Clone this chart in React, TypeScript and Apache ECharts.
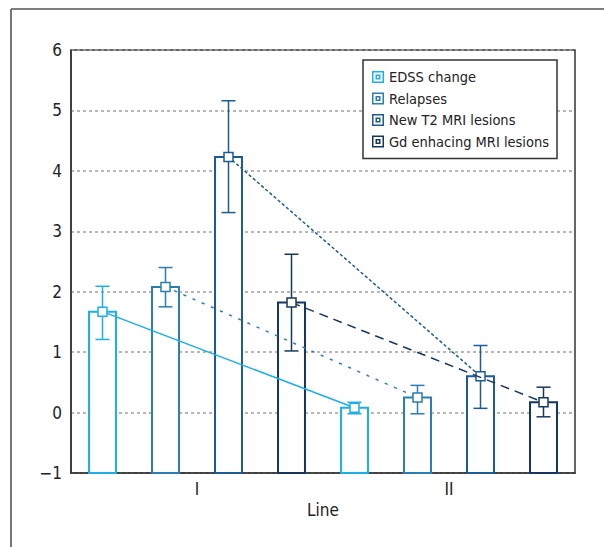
import React, { useEffect, useRef } from "react";
import * as echarts from "echarts";

const categories = ["I", "II"];
const seriesNames = ["EDSS change", "Relapses", "New T2 MRI lesions", "Gd enhacing MRI lesions"];
const seriesColors = ["#1cb0e6", "#2b7db3", "#1d5b94", "#15375f"];
const lineDashes: (number[] | null)[] = [null, [2, 8], [2, 3.5], [9, 6]];

const edssMean = [1.67, 0.08];
const edssLow = [1.21, -0.02];
const edssHigh = [2.09, 0.17];

const relapsesMean = [2.08, 0.25];
const relapsesLow = [1.75, -0.02];
const relapsesHigh = [2.4, 0.45];

const t2Mean = [4.23, 0.6];
const t2Low = [3.31, 0.07];
const t2High = [5.16, 1.11];

const gdMean = [1.82, 0.17];
const gdLow = [1.02, -0.07];
const gdHigh = [2.62, 0.42];

const yTicks = [-1, 0, 1, 2, 3, 4, 5, 6];

const means = [edssMean, relapsesMean, t2Mean, gdMean];
const lows = [edssLow, relapsesLow, t2Low, gdLow];
const highs = [edssHigh, relapsesHigh, t2High, gdHigh];

const FONT = "'Liberation Sans Narrow', 'DejaVu Sans Condensed', 'Open Sans', sans-serif";
const Y_MIN = yTicks[0];
const Y_MAX = yTicks[yTicks.length - 1];

const legendIcon =
  "path://M0,0H12V12H0ZM1.5,1.5V10.5H10.5V1.5ZM3.5,3.5H8.5V8.5H3.5ZM5,5V7H7V5Z";

export default function App() {
  const ref = useRef<HTMLDivElement>(null);

  useEffect(() => {
    if (!ref.current) return;
    const chart = echarts.init(ref.current, undefined, { renderer: "svg" });

    const barSeries = seriesNames.map((name, si) => ({
      type: "custom",
      name,
      z: 2,
      itemStyle: { color: seriesColors[si] },
      encode: { x: 0, y: 1 },
      data: categories.map((c, ci) => [ci, means[si][ci]]),
      renderItem: (params: any, api: any) => {
        const cat = api.value(0);
        const v = api.value(1);
        const catW = api.size([1, 0])[0];
        const off = ((si - 1.5) * catW) / 4;
        const bw = catW * 0.107;
        const top = api.coord([cat, v]);
        const base = api.coord([cat, Y_MIN]);
        return {
          type: "rect",
          shape: { x: top[0] + off - bw / 2, y: top[1], width: bw, height: base[1] - top[1] },
          style: { fill: "#ffffff", stroke: seriesColors[si], lineWidth: 2 },
        };
      },
    }));

    const overlaySeries = seriesNames.map((name, si) => ({
      type: "custom",
      name: name + " (error)",
      z: 3,
      encode: { x: 0, y: [1, 2, 3] },
      data: categories.map((c, ci) => [ci, means[si][ci], lows[si][ci], highs[si][ci]]),
      renderItem: (params: any, api: any) => {
        const ci = params.dataIndex;
        const cat = api.value(0);
        const catW = api.size([1, 0])[0];
        const off = ((si - 1.5) * catW) / 4;
        const col = seriesColors[si];
        const p = api.coord([cat, api.value(1)]);
        const lo = api.coord([cat, api.value(2)]);
        const hi = api.coord([cat, api.value(3)]);
        const x = p[0] + off;
        const cap = 7;
        const ms = 9;
        const children: any[] = [];
        if (ci < categories.length - 1) {
          const q = api.coord([ci + 1, means[si][ci + 1]]);
          children.push({
            type: "line",
            shape: { x1: x, y1: p[1], x2: q[0] + off, y2: q[1] },
            style: {
              stroke: col,
              lineWidth: 1.5,
              lineDash: lineDashes[si] || undefined,
              lineCap: lineDashes[si] && si !== 3 ? "round" : "butt",
            },
          });
        }
        children.push({
          type: "line",
          shape: { x1: x, y1: hi[1], x2: x, y2: lo[1] },
          style: { stroke: col, lineWidth: 1.5 },
        });
        children.push({
          type: "line",
          shape: { x1: x - cap, y1: hi[1], x2: x + cap, y2: hi[1] },
          style: { stroke: col, lineWidth: 1.5 },
        });
        children.push({
          type: "line",
          shape: { x1: x - cap, y1: lo[1], x2: x + cap, y2: lo[1] },
          style: { stroke: col, lineWidth: 1.5 },
        });
        children.push({
          type: "rect",
          shape: { x: x - ms / 2, y: p[1] - ms / 2, width: ms, height: ms },
          style: { fill: "#ffffff", stroke: col, lineWidth: 1.5 },
        });
        return { type: "group", children };
      },
    }));

    chart.setOption({
      animation: false,
      textStyle: { fontFamily: FONT },
      grid: {
        left: 71,
        top: 50,
        right: 29,
        bottom: 74,
        show: true,
        borderColor: "#333333",
        borderWidth: 1.5,
        backgroundColor: "transparent",
      },
      legend: {
        orient: "vertical",
        left: 363,
        top: 60,
        padding: [9, 8, 9, 9],
        itemWidth: 12,
        itemHeight: 12,
        itemGap: 5.5,
        borderColor: "#333333",
        borderWidth: 1.5,
        backgroundColor: "#ffffff",
        selectedMode: false,
        textStyle: { fontFamily: FONT, fontSize: 14.5, color: "#222222", lineHeight: 16 },
        data: seriesNames.map((n) => ({ name: n, icon: legendIcon })),
        z: 10,
      },
      xAxis: {
        type: "category",
        data: categories,
        name: "Line",
        nameLocation: "middle",
        nameGap: 28,
        nameTextStyle: { fontFamily: FONT, fontSize: 17, color: "#222222" },
        axisLine: { show: true, onZero: false, lineStyle: { color: "#333333", width: 1.5 } },
        axisTick: { show: false },
        axisLabel: { fontFamily: FONT, fontSize: 17, color: "#222222", margin: 7 },
        splitLine: { show: false },
      },
      yAxis: {
        type: "value",
        min: Y_MIN,
        max: Y_MAX,
        interval: 1,
        axisLine: { show: true, lineStyle: { color: "#333333", width: 1.5 } },
        axisTick: { show: false },
        axisLabel: {
          fontFamily: FONT,
          fontSize: 17,
          color: "#222222",
          margin: 9,
          formatter: (v: number) => String(v).replace("-", "\u2212"),
        },
        splitLine: { show: true, lineStyle: { color: "#a0a0a0", width: 1.5, type: [3, 3] } },
      },
      graphic: [
        {
          type: "line",
          shape: { x1: 11, y1: 9, x2: 604, y2: 9 },
          style: { stroke: "#555555", lineWidth: 1.5 },
        },
        {
          type: "line",
          shape: { x1: 11, y1: 9, x2: 11, y2: 547 },
          style: { stroke: "#777777", lineWidth: 2 },
        },
      ],
      series: [...barSeries, ...overlaySeries],
    });

    return () => chart.dispose();
  }, []);

  return (
    <div
      ref={ref}
      style={{ position: "absolute", left: 0, top: 0, width: 604, height: 547, background: "#ffffff" }}
    />
  );
}
